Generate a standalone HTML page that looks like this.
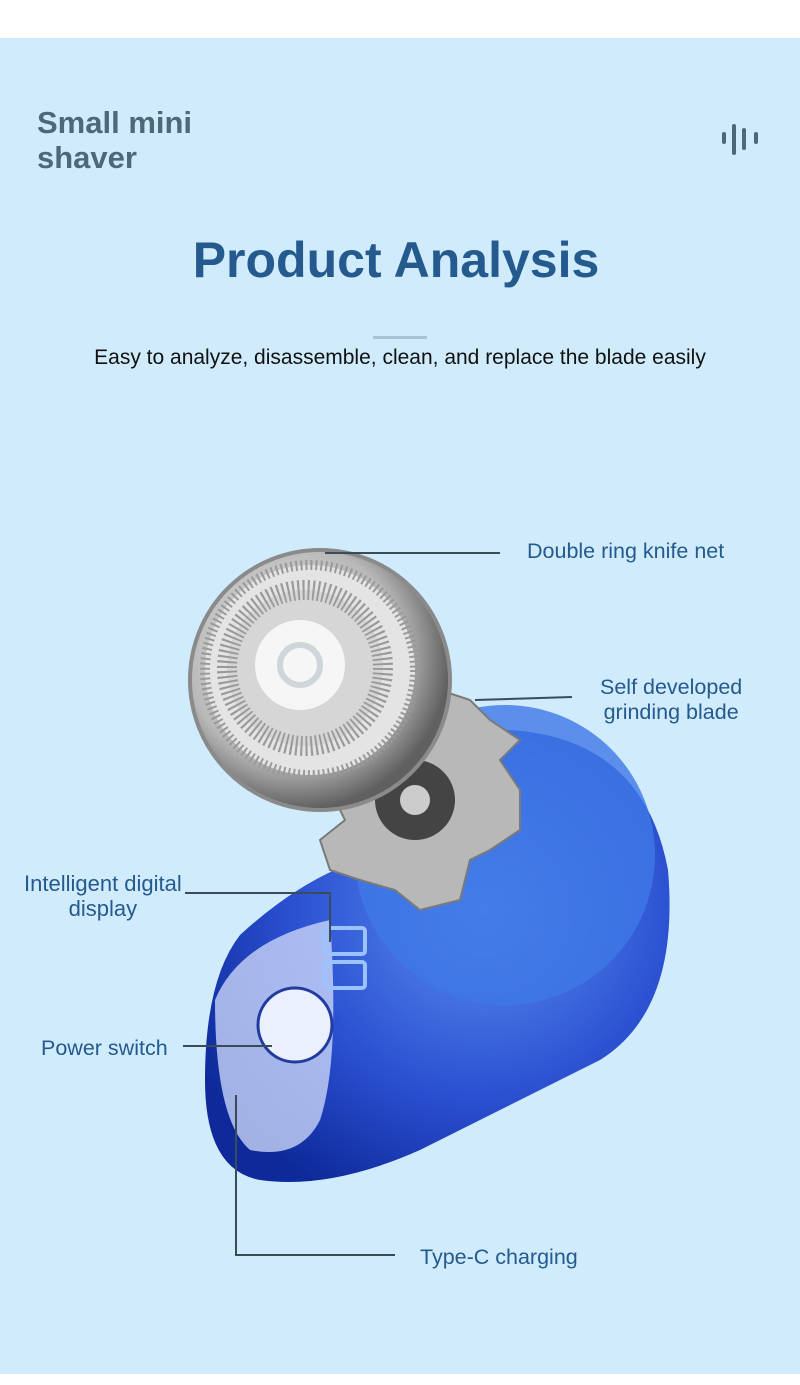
<!DOCTYPE html>
<html><head><meta charset="utf-8"><style>
body{margin:0;width:800px;height:1385px;background:#fff;position:relative;overflow:hidden;font-family:"Liberation Sans",sans-serif}
.bg{position:absolute;left:0;top:38px;width:800px;height:1336px;background:#d0ecfc}
.t{position:absolute;white-space:nowrap}
.l{font-size:21.5px;color:#245a8e}
</style></head><body>
<div class="bg"></div>
<div class="t" style="left:37px;top:105px;font-size:31px;font-weight:bold;color:#4e6878;line-height:35px">Small mini<br>shaver</div>
<svg class="t" style="left:718px;top:120px" width="46" height="40"><g stroke="#4e6878" stroke-linecap="round" stroke-width="4"><line x1="6" y1="14" x2="6" y2="22"/><line x1="16" y1="6" x2="16" y2="33"/><line x1="26" y1="10" x2="26" y2="28"/><line x1="38" y1="14" x2="38" y2="22"/></g></svg>
<div class="t" style="left:0;width:792px;text-align:center;top:231px;font-size:50px;font-weight:bold;color:#245a8e">Product Analysis</div>
<div class="t" style="left:373px;top:336px;width:54px;height:3px;background:#a9c3d2"></div>
<div class="t" style="left:0;width:800px;text-align:center;top:346px;font-size:21px;color:#111">Easy to analyze, disassemble, clean, and replace the blade easily</div>
<svg class="t" style="left:0;top:0" width="800" height="1385">
<defs>
<radialGradient id="bl" cx="0.6" cy="0.4" r="0.7"><stop offset="0" stop-color="#5a8ff0"/><stop offset="0.6" stop-color="#2a4fd0"/><stop offset="1" stop-color="#0e2a9a"/></radialGradient>
<radialGradient id="si" cx="0.4" cy="0.4" r="0.6"><stop offset="0" stop-color="#f4f4f4"/><stop offset="0.7" stop-color="#b8b8b8"/><stop offset="1" stop-color="#606060"/></radialGradient>
</defs>
<path d="M240 935 Q300 880 360 860 Q370 760 470 730 Q640 720 668 870 Q680 1010 600 1060 Q500 1110 420 1150 Q330 1190 260 1180 Q205 1170 205 1080 Q205 980 240 935Z" fill="url(#bl)"/>
<circle cx="505" cy="855" r="150" fill="#3f78e6" opacity="0.8"/>
<path d="M215 1000 Q240 940 330 920 Q340 1060 320 1120 Q300 1160 250 1150 Q215 1120 215 1000Z" fill="#c8d4f8" opacity="0.8"/>
<circle cx="295" cy="1025" r="37" fill="#eaf0ff" stroke="#233a9e" stroke-width="3"/>
<g fill="#8ab6ff"><rect x="325" y="928" width="40" height="26" rx="3" fill="none" stroke="#9cc2ff" stroke-width="4"/><rect x="325" y="962" width="40" height="26" rx="3" fill="none" stroke="#9cc2ff" stroke-width="4"/></g>
<g fill="#b8b8b8" stroke="#7a7a7a" stroke-width="2">
<path d="M410 700 L440 690 L470 700 L490 720 L520 740 L500 760 L520 790 L520 830 L490 850 L470 860 L460 900 L420 910 L395 890 L360 880 L330 870 L320 840 L345 820 L330 790 L360 770 L380 740 Z"/>
</g>
<circle cx="415" cy="800" r="40" fill="#444"/><circle cx="415" cy="800" r="15" fill="#ccc"/>
<circle cx="320" cy="680" r="130" fill="url(#si)" stroke="#8a8a8a" stroke-width="4"/>
<circle cx="310" cy="670" r="105" fill="#e4e4e4" stroke="#999" stroke-width="10" stroke-dasharray="2 3"/>
<circle cx="305" cy="668" r="78" fill="#d6d6d6" stroke="#999" stroke-width="20" stroke-dasharray="2 3"/>
<circle cx="300" cy="665" r="45" fill="#f6f6f6"/>
<circle cx="300" cy="665" r="20" fill="none" stroke="#cfd6da" stroke-width="6"/>
<g fill="none" stroke="#3a4c58" stroke-width="2">
<polyline points="325,553 500,553"/>
<polyline points="475,700 572,697"/>
<polyline points="185,893 330,893 330,942"/>
<polyline points="183,1046 272,1046"/>
<polyline points="236,1095 236,1255 395,1255"/>
</g>
</svg>
<div class="t l" style="left:527px;top:539px">Double ring knife net</div>
<div class="t l" style="left:600px;top:675px;text-align:center;line-height:25px">Self developed<br>grinding blade</div>
<div class="t l" style="left:24px;top:871px;text-align:center;line-height:25px;font-size:22px">Intelligent digital<br>display</div>
<div class="t l" style="left:41px;top:1036px">Power switch</div>
<div class="t l" style="left:420px;top:1245px">Type-C charging</div>
</body></html>
